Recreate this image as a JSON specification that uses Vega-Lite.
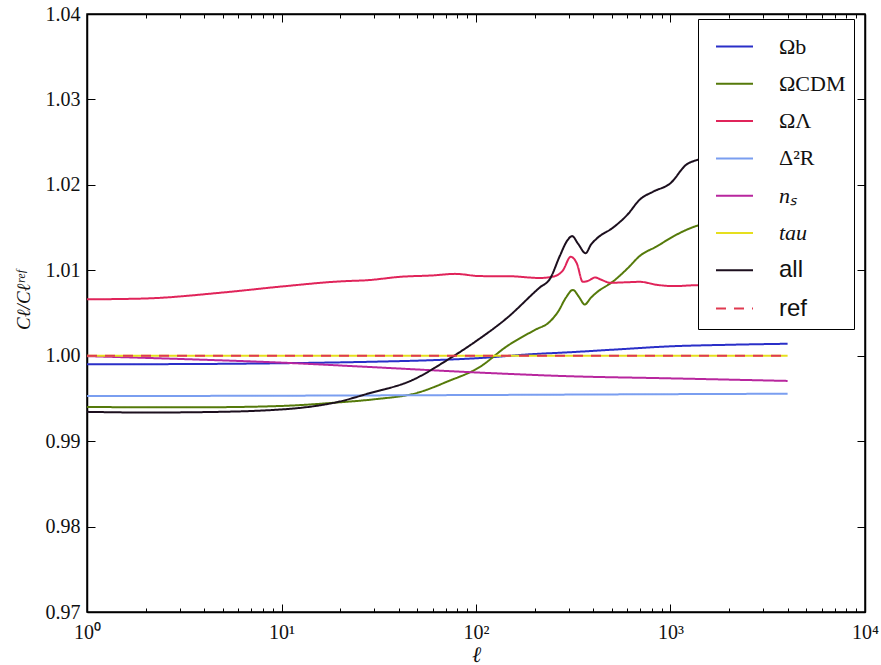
{
  "$schema": "https://vega.github.io/schema/vega-lite/v6.json",
  "width": 778,
  "height": 598,
  "autosize": {"type": "none"},
  "padding": {"left": 87, "top": 14, "right": 16, "bottom": 53},
  "background": "white",
  "config": {
    "view": {"stroke": "black", "strokeWidth": 1.5},
    "axis": {"domainColor": "black", "domainWidth": 1.5, "tickColor": "black", "tickWidth": 1, "grid": false, "labelFont": "Liberation Serif", "labelFontSize": 20, "labelColor": "#111", "titleFont": "Liberation Serif", "titleFontStyle": "italic", "titleFontWeight": "normal", "titleFontSize": 22, "titleColor": "#111"},
    "legend": {"orient": "none", "legendX": 611, "legendY": 5, "symbolType": "stroke", "symbolSize": 1369, "symbolStrokeWidth": 2, "labelFontSize": 21, "labelFont": "Liberation Serif", "labelColor": "#111", "padding": 8, "symbolOffset": 9, "labelOffset": 25, "rowPadding": 6.3, "strokeColor": "black", "fillColor": "white", "cornerRadius": 0, "labelLimit": 0}
  },
  "data": {"values": [
    {"s": "Ωb", "l": 1, "v": 0.9990}, {"s": "Ωb", "l": 3, "v": 0.99902}, {"s": "Ωb", "l": 10, "v": 0.99912}, {"s": "Ωb", "l": 30, "v": 0.9993}, {"s": "Ωb", "l": 60, "v": 0.99948}, {"s": "Ωb", "l": 100, "v": 0.9997}, {"s": "Ωb", "l": 200, "v": 1.0002}, {"s": "Ωb", "l": 300, "v": 1.0004}, {"s": "Ωb", "l": 500, "v": 1.0007}, {"s": "Ωb", "l": 1000, "v": 1.0011}, {"s": "Ωb", "l": 2000, "v": 1.00128}, {"s": "Ωb", "l": 4000, "v": 1.0014},
    {"s": "ΩCDM", "l": 1, "v": 0.9940}, {"s": "ΩCDM", "l": 2, "v": 0.99397}, {"s": "ΩCDM", "l": 4, "v": 0.99397}, {"s": "ΩCDM", "l": 10, "v": 0.99412}, {"s": "ΩCDM", "l": 20, "v": 0.99455}, {"s": "ΩCDM", "l": 30, "v": 0.9949}, {"s": "ΩCDM", "l": 50, "v": 0.99566}, {"s": "ΩCDM", "l": 71, "v": 0.99696}, {"s": "ΩCDM", "l": 105, "v": 0.99871}, {"s": "ΩCDM", "l": 144, "v": 1.0011}, {"s": "ΩCDM", "l": 200, "v": 1.0030}, {"s": "ΩCDM", "l": 240, "v": 1.0040}, {"s": "ΩCDM", "l": 265, "v": 1.0052}, {"s": "ΩCDM", "l": 290, "v": 1.0068}, {"s": "ΩCDM", "l": 315, "v": 1.0077}, {"s": "ΩCDM", "l": 338, "v": 1.0069}, {"s": "ΩCDM", "l": 362, "v": 1.0060}, {"s": "ΩCDM", "l": 390, "v": 1.0068}, {"s": "ΩCDM", "l": 417, "v": 1.0074}, {"s": "ΩCDM", "l": 507, "v": 1.0087}, {"s": "ΩCDM", "l": 600, "v": 1.0102}, {"s": "ΩCDM", "l": 697, "v": 1.0117}, {"s": "ΩCDM", "l": 850, "v": 1.0128}, {"s": "ΩCDM", "l": 1040, "v": 1.0140}, {"s": "ΩCDM", "l": 1364, "v": 1.0152}, {"s": "ΩCDM", "l": 2000, "v": 1.0158}, {"s": "ΩCDM", "l": 4000, "v": 1.0160},
    {"s": "ΩΛ", "l": 1, "v": 1.0066}, {"s": "ΩΛ", "l": 2, "v": 1.0067}, {"s": "ΩΛ", "l": 5, "v": 1.0074}, {"s": "ΩΛ", "l": 10, "v": 1.0081}, {"s": "ΩΛ", "l": 20, "v": 1.0087}, {"s": "ΩΛ", "l": 28, "v": 1.00885}, {"s": "ΩΛ", "l": 41, "v": 1.00924}, {"s": "ΩΛ", "l": 60, "v": 1.0094}, {"s": "ΩΛ", "l": 78, "v": 1.00958}, {"s": "ΩΛ", "l": 105, "v": 1.00932}, {"s": "ΩΛ", "l": 150, "v": 1.0093}, {"s": "ΩΛ", "l": 213, "v": 1.0091}, {"s": "ΩΛ", "l": 248, "v": 1.00925}, {"s": "ΩΛ", "l": 280, "v": 1.0100}, {"s": "ΩΛ", "l": 307, "v": 1.01158}, {"s": "ΩΛ", "l": 330, "v": 1.0108}, {"s": "ΩΛ", "l": 354, "v": 1.00865}, {"s": "ΩΛ", "l": 380, "v": 1.0088}, {"s": "ΩΛ", "l": 409, "v": 1.00916}, {"s": "ΩΛ", "l": 440, "v": 1.0089}, {"s": "ΩΛ", "l": 490, "v": 1.00854}, {"s": "ΩΛ", "l": 600, "v": 1.0086}, {"s": "ΩΛ", "l": 697, "v": 1.00865}, {"s": "ΩΛ", "l": 850, "v": 1.0083}, {"s": "ΩΛ", "l": 1040, "v": 1.00815}, {"s": "ΩΛ", "l": 1364, "v": 1.00826}, {"s": "ΩΛ", "l": 2000, "v": 1.0083}, {"s": "ΩΛ", "l": 4000, "v": 1.0083},
    {"s": "Δ²R", "l": 1, "v": 0.99527}, {"s": "Δ²R", "l": 10, "v": 0.99532}, {"s": "Δ²R", "l": 100, "v": 0.9954}, {"s": "Δ²R", "l": 1000, "v": 0.9955}, {"s": "Δ²R", "l": 4000, "v": 0.99555},
    {"s": "nₛ", "l": 1, "v": 0.99995}, {"s": "nₛ", "l": 3, "v": 0.99962}, {"s": "nₛ", "l": 10, "v": 0.99919}, {"s": "nₛ", "l": 30, "v": 0.99865}, {"s": "nₛ", "l": 105, "v": 0.99802}, {"s": "nₛ", "l": 300, "v": 0.9976}, {"s": "nₛ", "l": 1000, "v": 0.99735}, {"s": "nₛ", "l": 4000, "v": 0.99705},
    {"s": "tau", "l": 1, "v": 1.0}, {"s": "tau", "l": 100, "v": 1.0}, {"s": "tau", "l": 4000, "v": 1.0},
    {"s": "all", "l": 1, "v": 0.99343}, {"s": "all", "l": 2, "v": 0.99335}, {"s": "all", "l": 4, "v": 0.9934}, {"s": "all", "l": 10, "v": 0.99371}, {"s": "all", "l": 20, "v": 0.99465}, {"s": "all", "l": 28, "v": 0.99558}, {"s": "all", "l": 47, "v": 0.99714}, {"s": "all", "l": 71, "v": 0.99948}, {"s": "all", "l": 100, "v": 1.0017}, {"s": "all", "l": 144, "v": 1.0044}, {"s": "all", "l": 213, "v": 1.0080}, {"s": "all", "l": 240, "v": 1.0090}, {"s": "all", "l": 270, "v": 1.0117}, {"s": "all", "l": 295, "v": 1.0135}, {"s": "all", "l": 312, "v": 1.0140}, {"s": "all", "l": 335, "v": 1.0131}, {"s": "all", "l": 366, "v": 1.0120}, {"s": "all", "l": 390, "v": 1.0130}, {"s": "all", "l": 417, "v": 1.0137}, {"s": "all", "l": 507, "v": 1.0150}, {"s": "all", "l": 600, "v": 1.0165}, {"s": "all", "l": 697, "v": 1.0183}, {"s": "all", "l": 813, "v": 1.0192}, {"s": "all", "l": 1000, "v": 1.0202}, {"s": "all", "l": 1211, "v": 1.0224}, {"s": "all", "l": 1364, "v": 1.0229}, {"s": "all", "l": 1600, "v": 1.0232}, {"s": "all", "l": 2000, "v": 1.0231}, {"s": "all", "l": 4000, "v": 1.0225},
    {"s": "ref", "l": 1, "v": 1.0}, {"s": "ref", "l": 4000, "v": 1.0}
  ]},
  "encoding": {
    "x": {"field": "l", "type": "quantitative", "scale": {"type": "log", "domain": [1, 10000], "nice": false}},
    "y": {"field": "v", "type": "quantitative", "scale": {"domain": [0.97, 1.04], "nice": false, "zero": false}},
    "color": {"field": "s", "type": "nominal", "title": null,
      "scale": {"domain": ["Ωb", "ΩCDM", "ΩΛ", "Δ²R", "nₛ", "tau", "all", "ref"], "range": ["#2a2fc8", "#557a0a", "#e0245a", "#7a9ef0", "#b8269e", "#e6df1e", "#1c0f1e", "#e03a50"]},
      "legend": {"encode": {"labels": {"update": {
        "font": {"signal": "datum.value == 'all' || datum.value == 'ref' ? 'Liberation Sans' : 'Liberation Serif'"},
        "fontSize": {"signal": "datum.value == 'all' || datum.value == 'ref' ? 24 : 22"},
        "fontStyle": {"signal": "datum.value == 'tau' || datum.value == 'nₛ' ? 'italic' : 'normal'"}
      }}}}
    },
    "strokeDash": {"field": "s", "type": "nominal", "title": null,
      "scale": {"domain": ["Ωb", "ΩCDM", "ΩΛ", "Δ²R", "nₛ", "tau", "all", "ref"], "range": [[1, 0], [1, 0], [1, 0], [1, 0], [1, 0], [1, 0], [1, 0], [10, 8]]}},
    "strokeWidth": {"field": "s", "type": "nominal", "title": null,
      "scale": {"domain": ["Ωb", "ΩCDM", "ΩΛ", "Δ²R", "nₛ", "tau", "all", "ref"], "range": [2, 2, 2, 2, 2, 2.2, 2, 3.5]}}
  },
  "layer": [
    {
      "transform": [{"filter": "datum.s != 'ref'"}],
      "mark": {"type": "line", "interpolate": "monotone"},
      "encoding": {
        "x": {"field": "l", "type": "quantitative", "title": "ℓ",
          "axis": {"orient": "bottom", "values": [1,2,3,4,5,6,7,8,9,10,20,30,40,50,60,70,80,90,100,200,300,400,500,600,700,800,900,1000,2000,3000,4000,5000,6000,7000,8000,9000,10000],
            "labelExpr": "datum.value == 1 ? '10⁰' : datum.value == 10 ? '10¹' : datum.value == 100 ? '10²' : datum.value == 1000 ? '10³' : datum.value == 10000 ? '10⁴' : ''",
            "tickSize": {"condition": {"test": "datum.value == 1 || datum.value == 10 || datum.value == 100 || datum.value == 1000 || datum.value == 10000", "value": -8}, "value": -4},
            "labelPadding": 18, "labelFlush": false, "labelOverlap": false, "titleY": 49, "titleBaseline": "alphabetic"}},
        "y": {"field": "v", "type": "quantitative", "title": "Cℓ/Cℓʳᵉᶠ",
          "axis": {"orient": "left", "values": [0.97, 0.98, 0.99, 1.0, 1.01, 1.02, 1.03, 1.04], "format": ".2f", "tickSize": -8, "labelPadding": 15, "titlePadding": 12, "titleFontSize": 19, "titleY": 286}}
      }
    },
    {
      "transform": [{"filter": "datum.s == 'ref'"}],
      "mark": {"type": "line"},
      "encoding": {
        "x": {"field": "l", "type": "quantitative",
          "axis": {"orient": "top", "title": null, "labels": false, "values": [1,2,3,4,5,6,7,8,9,10,20,30,40,50,60,70,80,90,100,200,300,400,500,600,700,800,900,1000,2000,3000,4000,5000,6000,7000,8000,9000,10000],
            "tickSize": {"condition": {"test": "datum.value == 1 || datum.value == 10 || datum.value == 100 || datum.value == 1000 || datum.value == 10000", "value": -8}, "value": -4}}},
        "y": {"field": "v", "type": "quantitative",
          "axis": {"orient": "right", "title": null, "labels": false, "values": [0.97, 0.98, 0.99, 1.0, 1.01, 1.02, 1.03, 1.04], "tickSize": -8}}
      }
    }
  ],
  "resolve": {"axis": {"x": "independent", "y": "independent"}}
}
